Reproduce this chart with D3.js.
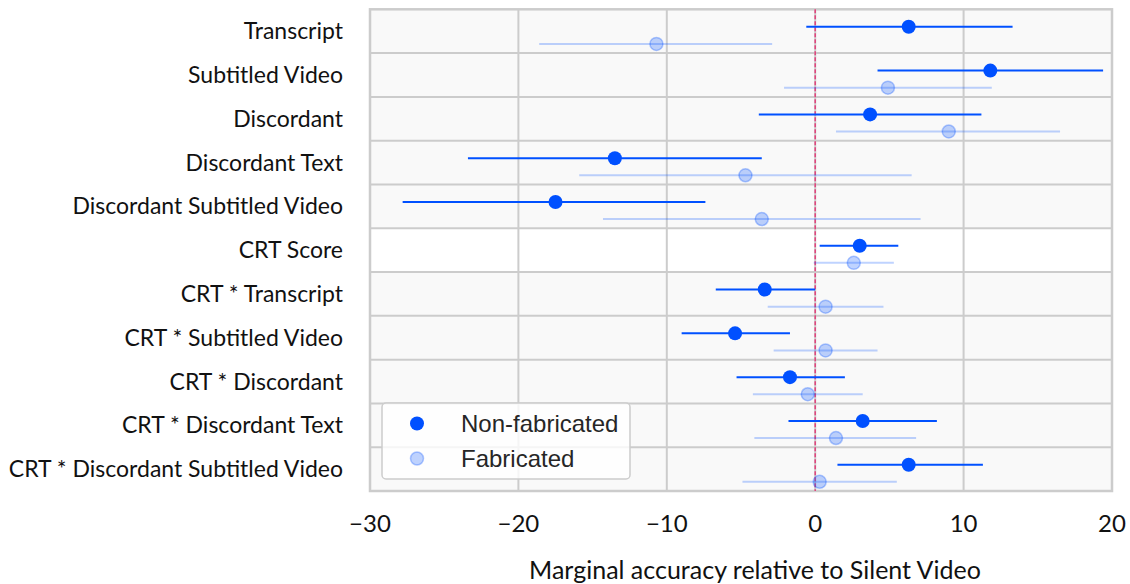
<!DOCTYPE html>
<html>
<head>
<meta charset="utf-8">
<script src="https://cdn.jsdelivr.net/npm/d3@7"></script>
<style>
  body { margin: 0; background: #fff; }
  svg text { font-family: "Lato", "Open Sans", sans-serif; }
</style>
</head>
<body>
<div id="container"></div>
<script>
// terms in the model, top to bottom
var terms = ["Transcript", "Subtitled Video", "Discordant", "Discordant Text",
  "Discordant Subtitled Video", "CRT Score", "CRT * Transcript", "CRT * Subtitled Video",
  "CRT * Discordant", "CRT * Discordant Text", "CRT * Discordant Subtitled Video"];

// Non-fabricated: estimate, lower, upper
var realEst = [6.3, 11.8, 3.7, -13.5, -17.5, 3.0, -3.4, -5.4, -1.7, 3.2, 6.3];
var realLo  = [-0.6, 4.2, -3.8, -23.4, -27.8, 0.3, -6.7, -9.0, -5.3, -1.8, 1.5];
var realHi  = [13.3, 19.4, 11.2, -3.6, -7.4, 5.6, 0.0, -1.7, 2.0, 8.2, 11.3];

// Fabricated: estimate, lower, upper
var fakeEst = [-10.7, 4.9, 9.0, -4.7, -3.6, 2.6, 0.7, 0.7, -0.5, 1.4, 0.3];
var fakeLo  = [-18.6, -2.1, 1.4, -15.9, -14.3, -0.1, -3.2, -2.8, -4.2, -4.1, -4.9];
var fakeHi  = [-2.9, 11.9, 16.5, 6.5, 7.1, 5.3, 4.6, 4.2, 3.2, 6.8, 5.5];

var xTicks = [-30, -20, -10, 0, 10, 20];
var seriesNames = ["Non-fabricated", "Fabricated"];

var CHART = {
  WIDTH: 1130,
  HEIGHT: 584,
  LEFT: 370,
  RIGHT: 1112,
  TOP: 9.3,
  BOTTOM: 491,
  BLUE: "#0050ff",
  GRID: "#cccccc"
};

var svg = d3.select("#container").append("svg")
  .attr("width", CHART.WIDTH)
  .attr("height", CHART.HEIGHT);

var x = d3.scaleLinear().domain([-30, 20]).range([CHART.LEFT, CHART.RIGHT]);
var y = d3.scaleBand().domain(terms).range([CHART.TOP, CHART.BOTTOM]).padding(0);
var bw = y.bandwidth();

// row backgrounds (CRT Score row is left white)
svg.append("g").selectAll("rect").data(terms).enter().append("rect")
  .attr("x", CHART.LEFT)
  .attr("y", function (d) { return y(d); })
  .attr("width", CHART.RIGHT - CHART.LEFT)
  .attr("height", bw)
  .style("fill", function (d) { return d === "CRT Score" ? "#ffffff" : "#f9f9f9"; });

// vertical grid
svg.append("g").selectAll("line").data(xTicks).enter().append("line")
  .attr("x1", function (d) { return x(d); })
  .attr("x2", function (d) { return x(d); })
  .attr("y1", CHART.TOP)
  .attr("y2", CHART.BOTTOM)
  .style("stroke", CHART.GRID)
  .style("stroke-width", 2);

// horizontal row separators
svg.append("g").selectAll("line").data(terms.slice(1)).enter().append("line")
  .attr("x1", CHART.LEFT)
  .attr("x2", CHART.RIGHT)
  .attr("y1", function (d) { return y(d); })
  .attr("y2", function (d) { return y(d); })
  .style("stroke", CHART.GRID)
  .style("stroke-width", 2);

// frame
svg.append("rect")
  .attr("x", CHART.LEFT)
  .attr("y", CHART.TOP)
  .attr("width", CHART.RIGHT - CHART.LEFT)
  .attr("height", CHART.BOTTOM - CHART.TOP)
  .style("fill", "none")
  .style("stroke", CHART.GRID)
  .style("stroke-width", 2.5);

// zero reference
svg.append("line")
  .attr("x1", x(0)).attr("x2", x(0))
  .attr("y1", CHART.TOP).attr("y2", CHART.BOTTOM)
  .style("stroke", "#e0407a")
  .style("stroke-width", 1.5)
  .style("stroke-dasharray", "4,2");

function drawSeries(est, lo, hi, offset, faded) {
  var g = svg.append("g");
  var rows = terms.map(function (t, i) {
    return { term: t, est: est[i], lo: lo[i], hi: hi[i] };
  });
  g.selectAll("line").data(rows).enter().append("line")
    .attr("x1", function (d) { return x(d.lo); })
    .attr("x2", function (d) { return x(d.hi); })
    .attr("y1", function (d) { return y(d.term) + bw * offset; })
    .attr("y2", function (d) { return y(d.term) + bw * offset; })
    .style("stroke", CHART.BLUE)
    .style("stroke-width", 2)
    .style("stroke-opacity", faded ? 0.25 : 1);
  g.selectAll("circle").data(rows).enter().append("circle")
    .attr("cx", function (d) { return x(d.est); })
    .attr("cy", function (d) { return y(d.term) + bw * offset; })
    .attr("r", faded ? 6.5 : 7)
    .style("fill", CHART.BLUE)
    .style("fill-opacity", faded ? 0.25 : 1)
    .style("stroke", CHART.BLUE)
    .style("stroke-opacity", faded ? 0.3 : 1)
    .style("stroke-width", faded ? 1.5 : 0);
}

drawSeries(fakeEst, fakeLo, fakeHi, 0.79, true);
drawSeries(realEst, realLo, realHi, 0.40, false);

// y labels
svg.append("g").selectAll("text").data(terms).enter().append("text")
  .attr("x", 343)
  .attr("y", function (d) { return y(d) + bw / 2 + 8; })
  .attr("text-anchor", "end")
  .style("font-size", "23px")
  .style("fill", "#111")
  .text(function (d) { return d; });

// x ticks
svg.append("g").selectAll("text").data(xTicks).enter().append("text")
  .attr("x", function (d) { return x(d); })
  .attr("y", 532)
  .attr("text-anchor", "middle")
  .style("font-size", "24px")
  .style("fill", "#111")
  .text(function (d) { return d3.format("")(d).replace("-", "\u2212"); });

svg.append("text")
  .attr("x", 755)
  .attr("y", 579)
  .attr("text-anchor", "middle")
  .style("font-size", "25px")
  .style("fill", "#111")
  .text("Marginal accuracy relative to Silent Video");

// legend
var legend = svg.append("g");
legend.append("rect")
  .attr("x", 382).attr("y", 403)
  .attr("width", 248).attr("height", 76)
  .attr("rx", 4)
  .style("fill", "#ffffff")
  .style("fill-opacity", 0.8)
  .style("stroke", "#cccccc")
  .style("stroke-width", 1.5);
legend.selectAll("circle").data(seriesNames).enter().append("circle")
  .attr("cx", 417)
  .attr("cy", function (d, i) { return 423.5 + i * 35; })
  .attr("r", function (d, i) { return i ? 6.5 : 7; })
  .style("fill", CHART.BLUE)
  .style("fill-opacity", function (d, i) { return i ? 0.25 : 1; })
  .style("stroke", CHART.BLUE)
  .style("stroke-opacity", function (d, i) { return i ? 0.3 : 0; })
  .style("stroke-width", 1.5);
legend.selectAll("text").data(seriesNames).enter().append("text")
  .attr("x", 461)
  .attr("y", function (d, i) { return 432 + i * 35; })
  .style("font-family", "'Liberation Sans', Arial, sans-serif")
  .style("font-size", "24px")
  .style("fill", "#262626")
  .text(function (d) { return d; });
</script>
</body>
</html>
